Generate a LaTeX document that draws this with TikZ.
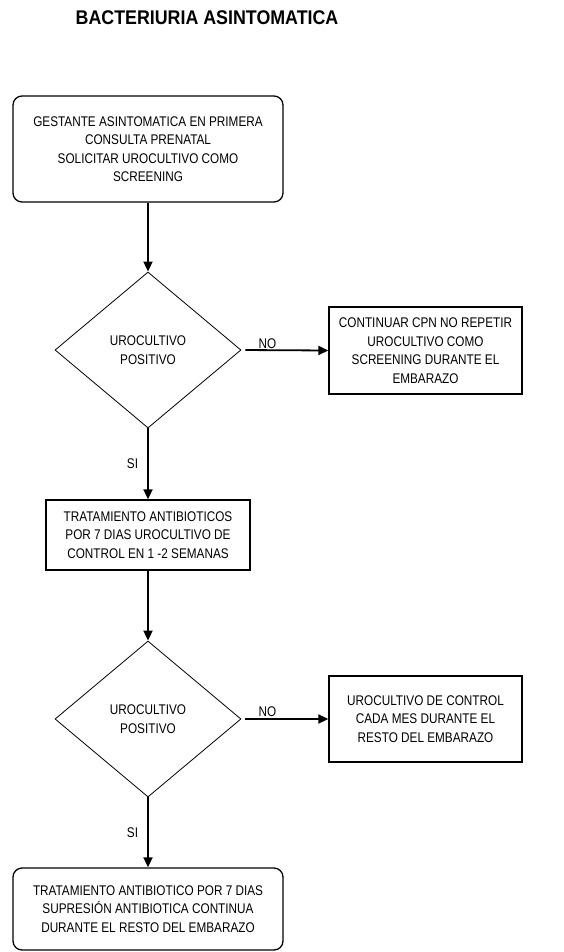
\documentclass[tikz,border=0pt]{standalone}
\usepackage{fontspec}
\setmainfont{Liberation Sans}
\newfontfamily\nfont{Liberation Sans}[FakeStretch=0.84]
\newfontfamily\tfont{Liberation Sans}[FakeStretch=0.9]
\usetikzlibrary{shapes.geometric,arrows.meta}
\begin{document}
\begin{tikzpicture}[x=1pt,y=1pt,
 txt/.style={font=\nfont\fontsize{14}{18.5}\selectfont},
 rbox/.style={txt,draw,line width=1.3pt,rounded corners=9pt,align=center,inner sep=0pt},
 sbox/.style={txt,draw,line width=1.3pt,align=center,inner sep=0pt},
 dec/.style={txt,draw,diamond,line width=0.8pt,align=center,inner sep=0pt,minimum width=186pt,minimum height=156pt},
 arr/.style={line width=1.8pt,-{Triangle[length=10pt,width=9pt]}},
 lbl/.style={font=\nfont\fontsize{14}{15}\selectfont,inner sep=1pt}]
\useasboundingbox (0,0) rectangle (564,-952);

\node[font=\tfont\bfseries\fontsize{19.8}{22}\selectfont] (title) at (207,-18) {BACTERIURIA ASINTOMATICA};

\node[rbox,minimum width=270pt,minimum height=106pt] (b1) at (148,-149)
 {GESTANTE ASINTOMATICA EN PRIMERA\\CONSULTA PRENATAL\\SOLICITAR UROCULTIVO COMO\\SCREENING};

\node[dec] (d1) at (148,-350) {UROCULTIVO\\POSITIVO};

\node[sbox,minimum width=193pt,minimum height=87pt] (b2) at (425.5,-350.5)
 {CONTINUAR CPN NO REPETIR\\UROCULTIVO COMO\\SCREENING DURANTE EL\\EMBARAZO};

\node[sbox,minimum width=204pt,minimum height=70pt] (b3) at (148,-535)
 {TRATAMIENTO ANTIBIOTICOS\\POR 7 DIAS UROCULTIVO DE\\CONTROL EN 1 -2 SEMANAS};

\node[dec] (d2) at (148,-719) {UROCULTIVO\\POSITIVO};

\node[sbox,minimum width=193pt,minimum height=86pt] (b4) at (425.5,-719)
 {UROCULTIVO DE CONTROL\\CADA MES DURANTE EL\\RESTO DEL EMBARAZO};

\node[rbox,minimum width=270pt,minimum height=82pt] (b5) at (148,-909)
 {TRATAMIENTO ANTIBIOTICO POR 7 DIAS\\SUPRESIÓN ANTIBIOTICA CONTINUA\\DURANTE EL RESTO DEL EMBARAZO};

\draw[arr] (b1.south) -- (d1.north);
\draw[arr,shorten <=4pt] (d1.east) -- node[lbl,above,pos=0.3] {NO} (b2.west);
\draw[arr] (d1.south) -- node[lbl,left=8pt] {SI} (b3.north);
\draw[arr] (b3.south) -- (d2.north);
\draw[arr,shorten <=4pt] (d2.east) -- node[lbl,above,pos=0.3] {NO} (b4.west);
\draw[arr] (d2.south) -- node[lbl,left=8pt] {SI} (b5.north);
\end{tikzpicture}
\end{document}
